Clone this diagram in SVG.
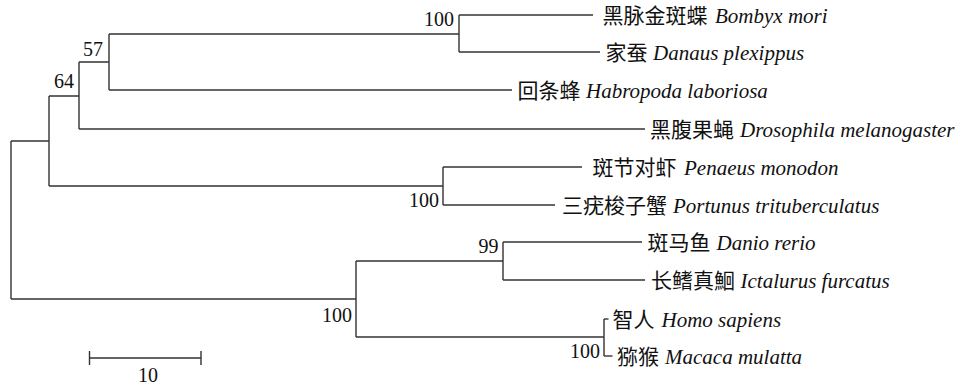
<svg xmlns="http://www.w3.org/2000/svg" width="961" height="389" viewBox="0 0 961 389">
<style>
  .e { fill: none; stroke: #333; stroke-width: 1.4; }
  text { font-family: "Liberation Serif", "Noto Sans CJK SC", serif; fill: #111; }
  .lab { font-size: 21px; }
  .cjk { font-family: "Noto Sans CJK SC", "Liberation Serif", sans-serif; font-size: 21px; }
  .sp { font-style: italic; }
  .bs { font-size: 20px; text-anchor: end; }
</style>
<rect width="961" height="389" fill="#fff"/>
<g id="connectors">
  <path class="e" d="M11,141 V299"/>
  <path class="e" d="M11,141 H49 M49,96 V186"/>
  <path class="e" d="M49,96 H79 M79,62 V129"/>
  <path class="e" d="M79,62 H109 M109,34 V90"/>
  <path class="e" d="M109,34 H459 M459,15 V52"/>
  <path class="e" d="M459,15 H593"/>
  <path class="e" d="M459,52 H600"/>
  <path class="e" d="M109,90 H512"/>
  <path class="e" d="M79,129 H645"/>
  <path class="e" d="M49,186 H443 M443,167 V205"/>
  <path class="e" d="M443,167 H582"/>
  <path class="e" d="M443,205 H555"/>
  <path class="e" d="M11,299 H356 M356,261 V337"/>
  <path class="e" d="M356,261 H503 M503,242 V280"/>
  <path class="e" d="M503,242 H642"/>
  <path class="e" d="M503,280 H645"/>
  <path class="e" d="M356,337 H604 M604,319 V356"/>
  <path class="e" d="M604,319 H608.5"/>
  <path class="e" d="M604,356 H612.5"/>
</g>
<g id="bootstrap">
  <text class="bs" x="454" y="25.5">100</text>
  <text class="bs" x="103" y="56">57</text>
  <text class="bs" x="74" y="88">64</text>
  <text class="bs" x="439" y="207">100</text>
  <text class="bs" x="498.5" y="253">99</text>
  <text class="bs" x="352" y="321.5">100</text>
  <text class="bs" x="600" y="358">100</text>
</g>
<g id="leaf-bombyx"><text class="lab" y="23"><tspan class="cjk" x="602.5">黑脉金斑蝶</tspan><tspan class="sp" x="715">Bombyx mori</tspan></text></g>
<g id="leaf-danaus"><text class="lab" y="60"><tspan class="cjk" x="605.5">家蚕</tspan><tspan class="sp" x="653">Danaus plexippus</tspan></text></g>
<g id="leaf-habropoda"><text class="lab" y="98"><tspan class="cjk" x="517.5">回条蜂</tspan><tspan class="sp" x="586">Habropoda laboriosa</tspan></text></g>
<g id="leaf-drosophila"><text class="lab" y="137"><tspan class="cjk" x="650">黑腹果蝇</tspan><tspan class="sp" x="740">Drosophila melanogaster</tspan></text></g>
<g id="leaf-penaeus"><text class="lab" y="175"><tspan class="cjk" x="592.5">斑节对虾</tspan><tspan class="sp" x="684">Penaeus monodon</tspan></text></g>
<g id="leaf-portunus"><text class="lab" y="213"><tspan class="cjk" x="562">三疣梭子蟹</tspan><tspan class="sp" x="673">Portunus trituberculatus</tspan></text></g>
<g id="leaf-danio"><text class="lab" y="250"><tspan class="cjk" x="647.5">斑马鱼</tspan><tspan class="sp" x="716.5">Danio rerio</tspan></text></g>
<g id="leaf-ictalurus"><text class="lab" y="288"><tspan class="cjk" x="651">长鳍真鮰</tspan><tspan class="sp" x="740.5">Ictalurus furcatus</tspan></text></g>
<g id="leaf-homo"><text class="lab" y="327"><tspan class="cjk" x="612.5">智人</tspan><tspan class="sp" x="661.5">Homo sapiens</tspan></text></g>
<g id="leaf-macaca"><text class="lab" y="364"><tspan class="cjk" x="617">猕猴</tspan><tspan class="sp" x="665">Macaca mulatta</tspan></text></g>
<g id="scale-bar">
  <path class="e" d="M89.5,358 H201 M89.5,351 V365 M201,351 V365"/>
  <text x="148" y="381.5" font-size="20" text-anchor="middle">10</text>
</g>
</svg>
